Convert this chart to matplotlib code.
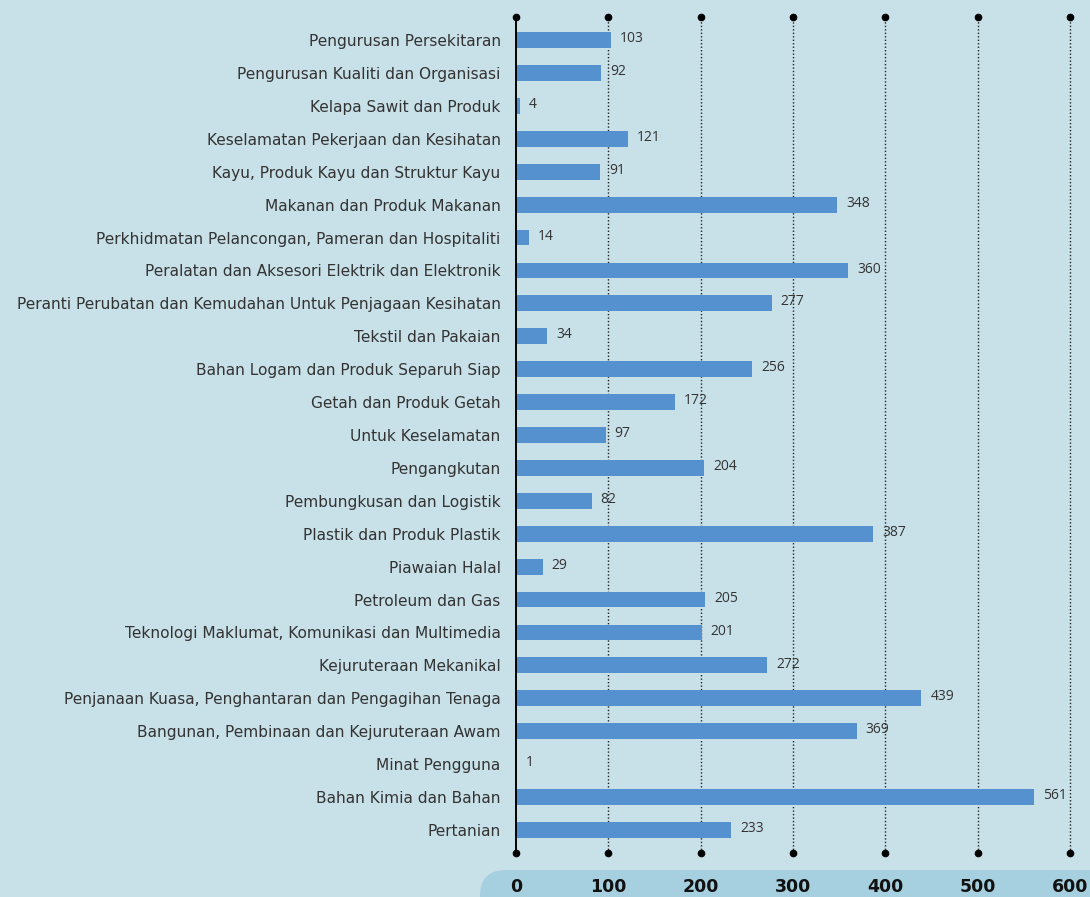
import matplotlib.pyplot as plt
from matplotlib.patches import FancyBboxPatch

categories = [
    "Pengurusan Persekitaran",
    "Pengurusan Kualiti dan Organisasi",
    "Kelapa Sawit dan Produk",
    "Keselamatan Pekerjaan dan Kesihatan",
    "Kayu, Produk Kayu dan Struktur Kayu",
    "Makanan dan Produk Makanan",
    "Perkhidmatan Pelancongan, Pameran dan Hospitaliti",
    "Peralatan dan Aksesori Elektrik dan Elektronik",
    "Peranti Perubatan dan Kemudahan Untuk Penjagaan Kesihatan",
    "Tekstil dan Pakaian",
    "Bahan Logam dan Produk Separuh Siap",
    "Getah dan Produk Getah",
    "Untuk Keselamatan",
    "Pengangkutan",
    "Pembungkusan dan Logistik",
    "Plastik dan Produk Plastik",
    "Piawaian Halal",
    "Petroleum dan Gas",
    "Teknologi Maklumat, Komunikasi dan Multimedia",
    "Kejuruteraan Mekanikal",
    "Penjanaan Kuasa, Penghantaran dan Pengagihan Tenaga",
    "Bangunan, Pembinaan dan Kejuruteraan Awam",
    "Minat Pengguna",
    "Bahan Kimia dan Bahan",
    "Pertanian",
]
values = [103, 92, 4, 121, 91, 348, 14, 360, 277, 34, 256, 172, 97, 204, 82,
          387, 29, 205, 201, 272, 439, 369, 1, 561, 233]
ticks = [0, 100, 200, 300, 400, 500, 600]

bg = "#c8e0e8"
band = "#a6cfe0"
bar_color = "#5591cf"
text_color = "#333333"

W, H = 1090, 897
fig = plt.figure(figsize=(W / 100, H / 100), dpi=100, facecolor=bg)
ax = fig.add_axes([516 / W, 1 - 853 / H, (1070 - 516) / W, (853 - 17) / H])
ax.set_facecolor(bg)

pos = list(range(len(categories)))
ax.barh(pos, values, height=0.48, color=bar_color, zorder=2)
ax.set_ylim(len(categories) - 0.3, -0.7)
ax.set_xlim(0, 600)

# gridlines with dot caps at both ends
for t in ticks:
    if t == 0:
        ax.axvline(t, color="black", lw=1.4, zorder=3, clip_on=False)
    else:
        ax.axvline(t, color="#222222", lw=1.0, ls=(0, (1, 1.5)), zorder=1,
                   clip_on=False)
    ax.plot([t, t], [-0.7, len(categories) - 0.3], "o", color="black", ms=4.5,
            clip_on=False, zorder=4)

for y, v in zip(pos, values):
    ax.annotate(str(v), (v, y), xytext=(6.5, 1), textcoords="offset points",
                va="center", ha="left", fontsize=10, color=text_color,
                family="Open Sans")

ax.set_yticks(pos)
ax.set_yticklabels(categories, fontsize=11.1, color=text_color, family="DejaVu Sans")
ax.tick_params(axis="y", length=0, pad=11)
ax.set_xticks([])
for s in ax.spines.values():
    s.set_visible(False)

# rounded band behind the x tick labels (runs off the bottom edge)
band_patch = FancyBboxPatch((480, -30), 700, 57, boxstyle="round,pad=0,rounding_size=26",
                            transform=None, facecolor=band, edgecolor="none", zorder=0)
fig.patches.append(band_patch)
for t in ticks:
    xpix = ax.transData.transform((t, 0))[0]
    fig.text(xpix / W, 10 / H, str(t), ha="center", va="center", fontsize=12.5,
             fontweight="bold", color="#111111", family="DejaVu Sans")

fig.savefig("out.png", dpi=100, facecolor=bg)
